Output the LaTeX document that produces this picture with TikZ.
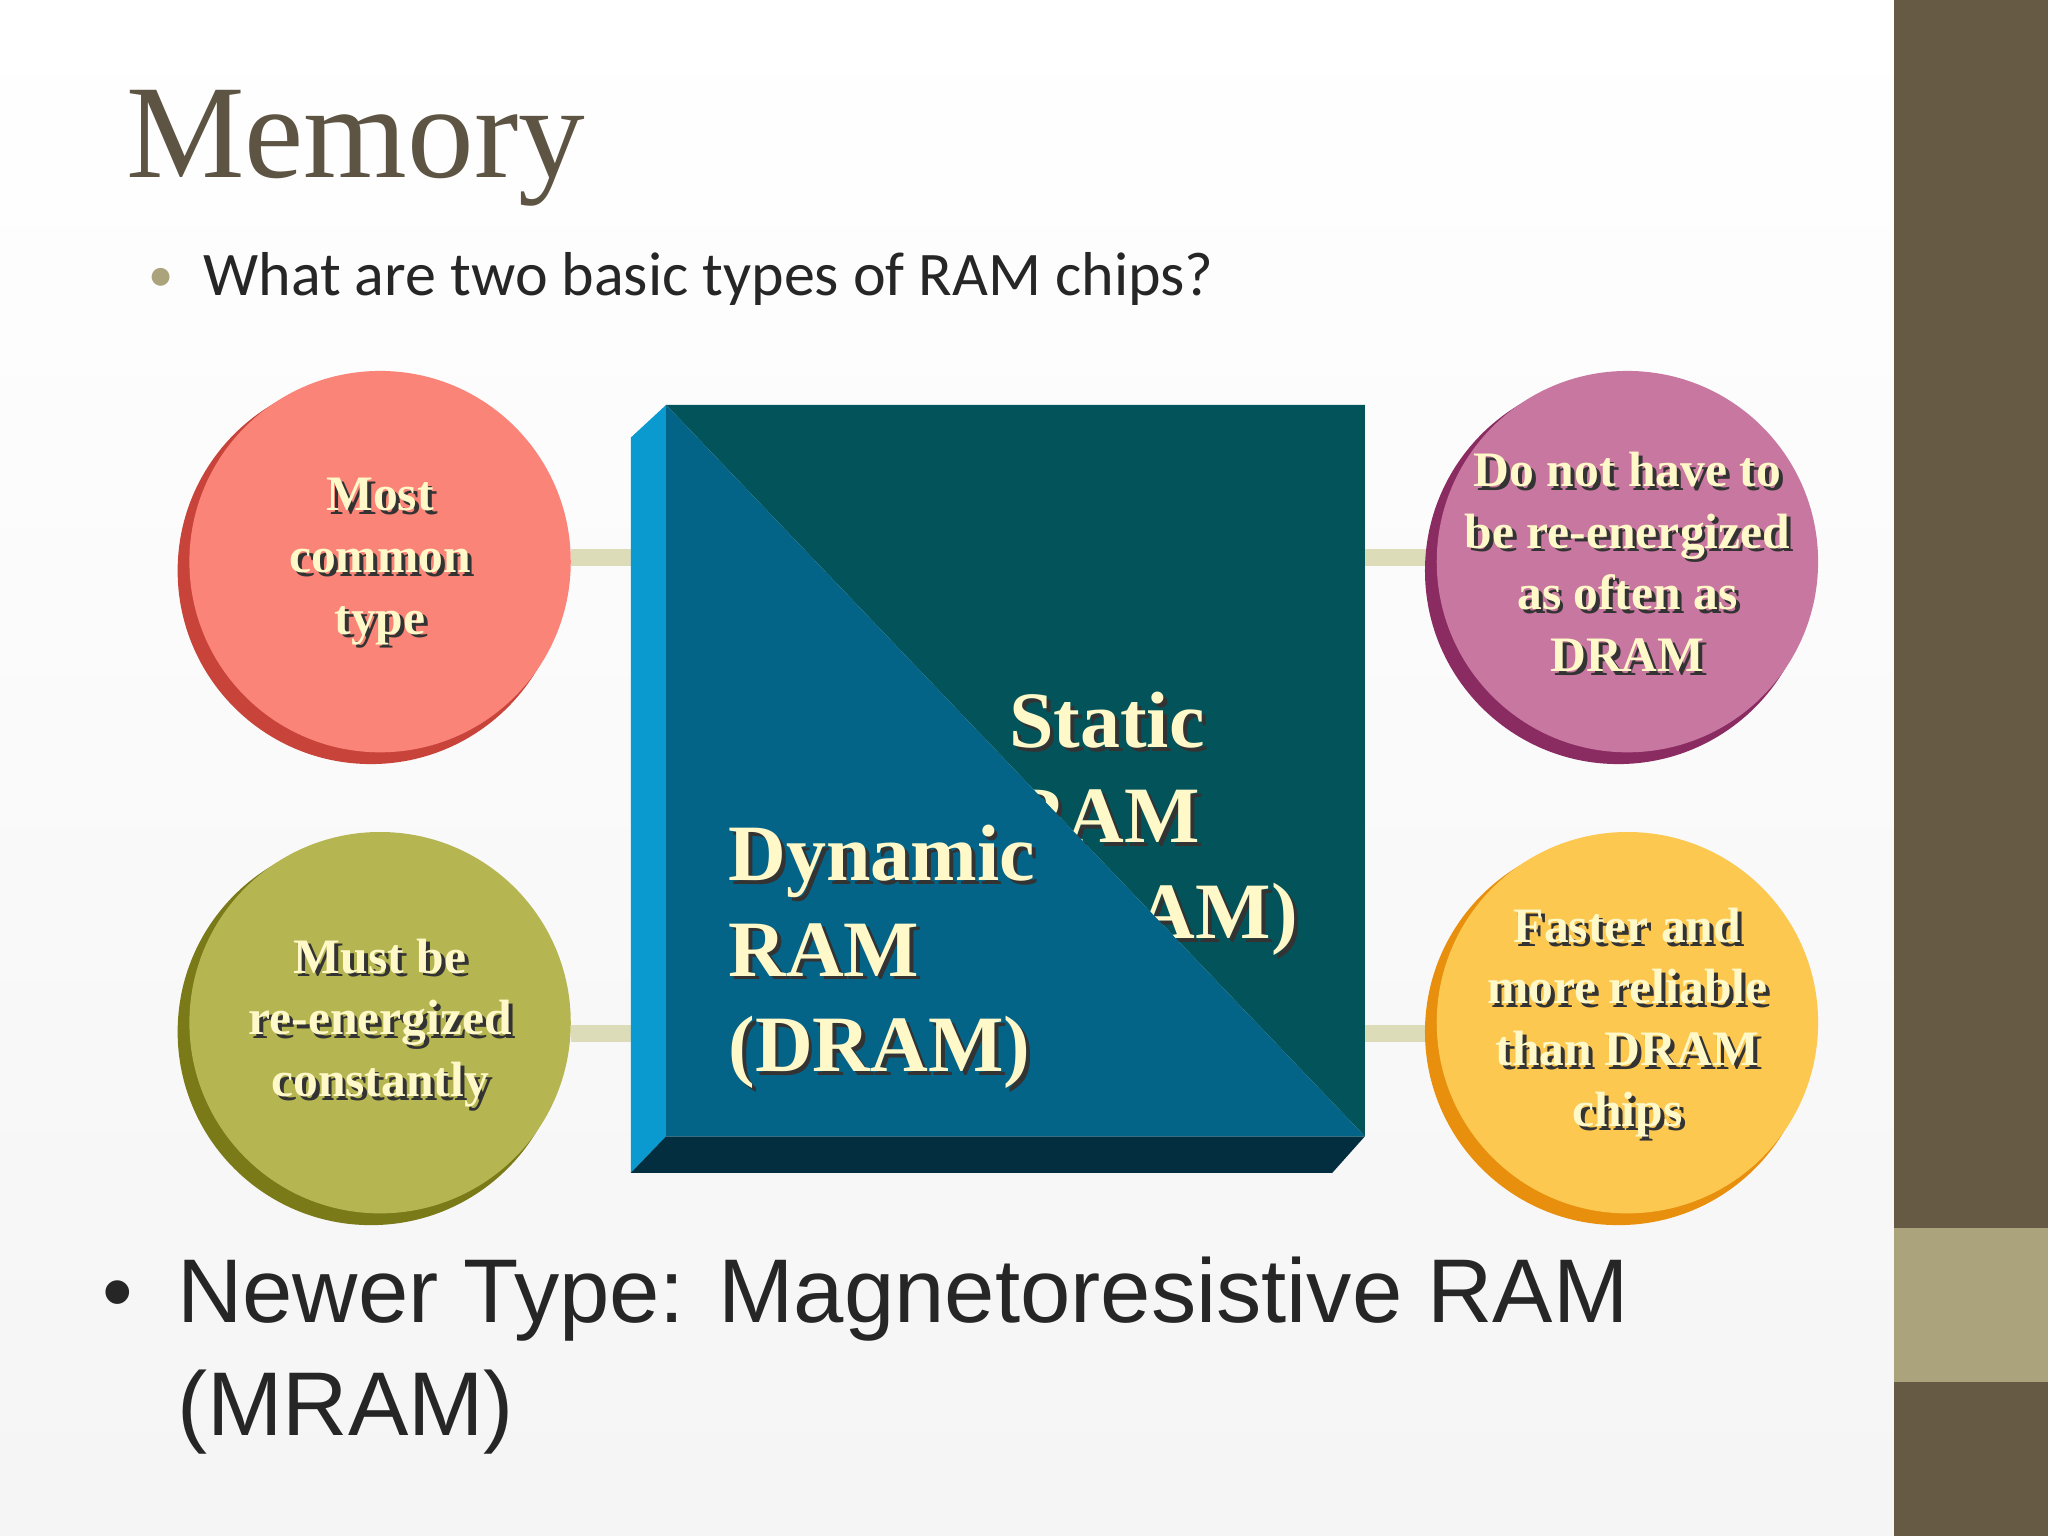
\documentclass[tikz,border=0pt]{standalone}
\usepackage{fontspec}
\setmainfont{Liberation Serif}
\newfontfamily\calib{Carlito}
\newfontfamily\arialf{Liberation Sans}
\usetikzlibrary{calc}
\definecolor{cream}{HTML}{FFF8C8}
\definecolor{bar}{HTML}{665A45}
\definecolor{barl}{HTML}{ABA37B}
\definecolor{titlec}{HTML}{5E5444}
\definecolor{teal}{HTML}{03545A}
\definecolor{blu}{HTML}{046488}
\definecolor{strip}{HTML}{0A9AD0}
\definecolor{bot}{HTML}{022E40}
\definecolor{link}{HTML}{DCDCB8}
\definecolor{f1}{HTML}{FA8478}\definecolor{s1}{HTML}{C8443A}
\definecolor{f2}{HTML}{B5B552}\definecolor{s2}{HTML}{7A7A18}
\definecolor{f3}{HTML}{C878A0}\definecolor{s3}{HTML}{8A2C62}
\definecolor{f4}{HTML}{FCC850}\definecolor{s4}{HTML}{E8900E}
\tikzset{
 ctext/.style={font=\fontsize{10.8}{13.4}\selectfont\bfseries, align=center, text=cream},
 shad/.style={text=black!80},
 btext/.style={font=\fontsize{17.4}{20.8}\selectfont\bfseries, align=left, text=cream, anchor=north west, inner sep=0},
}
\newcommand{\shtext}[4]{% style, position, name, text
 \node[#1,shad] at ($(#2)+(3,3)$) {#4};
 \node[#1] (#3) at (#2) {#4};}
\newcommand{\ball}[5]{% name, x, y, face, shade
 \fill[#5] (#2-7,#3+7) circle (148);
 \fill[#4] (#2,#3) circle (146);
 \coordinate (#1) at (#2,#3);}
\begin{document}
\begin{tikzpicture}[x=0.01cm,y=-0.01cm]
\useasboundingbox (0,0) rectangle (1568,1176);
\shade[top color=white, bottom color=gray!8] (0,0) rectangle (1450,1176);
\fill[bar] (1450,0) rectangle (1568,1176);
\fill[barl] (1450,940) rectangle (1568,1058);
\node[anchor=base west, inner sep=0, text=titlec, font=\fontsize{29}{32}\selectfont] (title) at (96,136) {Memory};
\node[anchor=base west, inner sep=0, text=barl, font=\calib\fontsize{11}{13}\selectfont] (b1) at (113,223) {•};
\node[anchor=base west, inner sep=0, text=black!85, font=\calib\fontsize{13.5}{16}\selectfont] (q) at (155,226) {What are two basic types of RAM chips?};
% links
\fill[link] (437,420) rectangle (485,433);
\fill[link] (437,785) rectangle (485,798);
\fill[link] (1043,420) rectangle (1095,433);
\fill[link] (1043,785) rectangle (1095,798);
% square
\fill[strip] (483,335) -- (510,310) -- (510,870) -- (483,898) -- cycle;
\fill[bot] (483,898) -- (510,870) -- (1045,870) -- (1020,898) -- cycle;
\fill[teal] (510,310) -- (1045,310) -- (1045,870) -- cycle;
\node[btext,shad] at (775,532) {Static\\RAM\\(SRAM)};
\node[btext] (sram) at (772,529) {Static\\RAM\\(SRAM)};
\fill[blu] (510,310) -- (510,870) -- (1045,870) -- cycle;
\node[btext,shad] at (560,634) {Dynamic\\RAM\\(DRAM)};
\node[btext] (dram) at (557,631) {Dynamic\\RAM\\(DRAM)};
% balls
\ball{c1}{291}{430}{f1}{s1}
\ball{c2}{291}{783}{f2}{s2}
\ball{c3}{1246}{430}{f3}{s3}
\ball{c4}{1246}{783}{f4}{s4}
\shtext{ctext}{c1}{t1}{Most\\common\\type}
\shtext{ctext}{c2}{t2}{Must be\\re-energized\\constantly}
\shtext{ctext}{c3}{t3}{Do not have to\\be re-energized\\as often as\\DRAM}
\shtext{ctext}{c4}{t4}{Faster and\\more reliable\\than DRAM\\chips}
% bottom bullet
\node[anchor=base west, inner sep=0, text=black!85, font=\arialf\fontsize{19}{24}\selectfont] (b2) at (78,1012) {•};
\node[anchor=north west, inner sep=0, align=left, text=black!85, font=\arialf\fontsize{19.7}{24.5}\selectfont] (nt) at (135,962) {Newer Type: Magnetoresistive RAM\\(MRAM)};
\end{tikzpicture}
\end{document}
